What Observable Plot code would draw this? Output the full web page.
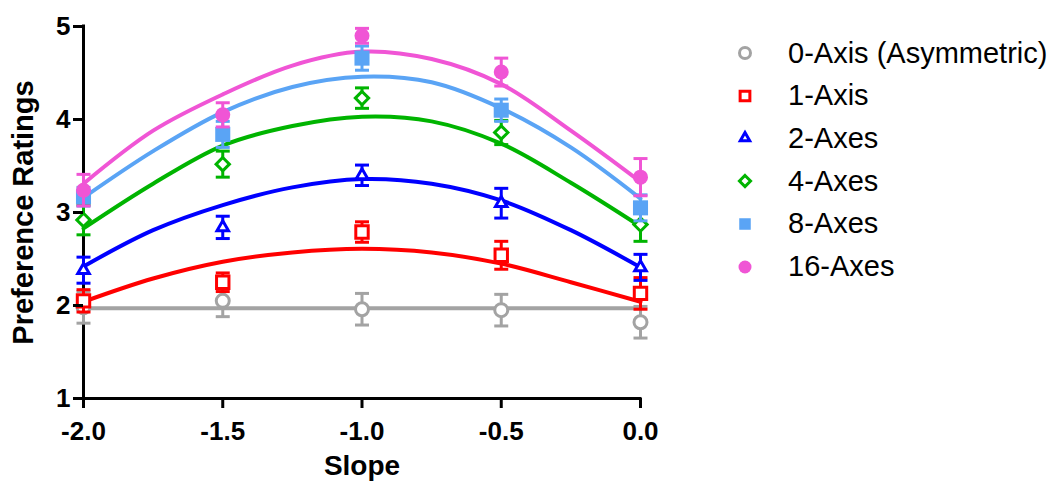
<!DOCTYPE html>
<html>
<head>
<meta charset="utf-8">
<script src="https://cdn.jsdelivr.net/npm/d3@7"></script>
<script src="https://cdn.jsdelivr.net/npm/@observablehq/plot@0.6"></script>
<style>
  body { margin: 0; background: #fff; }
  #wrap { position: relative; width: 1064px; height: 483px; font-family: "Liberation Sans", Arial, sans-serif; }
  #legend { position: absolute; left: 0; top: 0; }
  .lrow { position: absolute; height: 40px; display: flex; align-items: center; font-size: 29px; color: #000; white-space: nowrap; }
  .lrow svg { width: 30px; height: 30px; margin-right: 28px; }
</style>
</head>
<body>
<div id="wrap"><div id="chart"></div><div id="legend"></div></div>
<script>
// ---- data ----
const slopes = [-2, -1.5, -1, -0.5, 0];
const fitSlopes = [-2, -1.75, -1.5, -1.25, -1, -0.75, -0.5, -0.25, 0];
const seriesNames = ["0-Axis (Asymmetric)", "1-Axis", "2-Axes", "4-Axes", "8-Axes", "16-Axes"];
const seriesColors = ["#a3a3a3", "#ff0000", "#0000ff", "#00b400", "#5aa4f5", "#f055d5"];
const seriesSymbols = ["circle", "square", "triangle2", "diamond2", "square", "circle"];
const seriesFilled = [false, false, false, false, true, true];
const seriesR = [6.5, 7, 5.5, 6, 8.5, 7.5];

// means
const mean0 = [1.98, 2.05, 1.96, 1.95, 1.82];
const mean1 = [2.05, 2.25, 2.79, 2.54, 2.13];
const mean2 = [2.38, 2.84, 3.40, 3.10, 2.41];
const mean4 = [2.92, 3.52, 4.23, 3.86, 2.87];
const mean8 = [3.17, 3.84, 4.66, 4.10, 3.05];
const mean16 = [3.24, 4.05, 4.90, 4.51, 3.38];
// standard errors
const err0 = [0.17, 0.17, 0.17, 0.17, 0.17];
const err1 = [0.12, 0.10, 0.11, 0.15, 0.17];
const err2 = [0.14, 0.12, 0.11, 0.16, 0.14];
const err4 = [0.16, 0.14, 0.11, 0.13, 0.18];
const err8 = [0.10, 0.14, 0.13, 0.12, 0.14];
const err16 = [0.17, 0.13, 0.08, 0.15, 0.20];
// fitted curve values at fitSlopes
const fit0 = [1.97, 1.97, 1.97, 1.97, 1.97, 1.97, 1.97, 1.97, 1.97];
const fit1 = [2.04, 2.29, 2.47, 2.57, 2.61, 2.57, 2.45, 2.25, 2.04];
const fit2 = [2.42, 2.81, 3.08, 3.27, 3.36, 3.31, 3.13, 2.81, 2.41];
const fit4 = [2.83, 3.31, 3.72, 3.93, 4.03, 3.98, 3.74, 3.32, 2.85];
const fit8 = [3.16, 3.66, 4.08, 4.35, 4.46, 4.40, 4.12, 3.70, 3.15];
const fit16 = [3.31, 3.88, 4.27, 4.58, 4.73, 4.65, 4.38, 3.88, 3.33];

const yTicks = [1, 2, 3, 4, 5];
const xTicks = [-2, -1.5, -1, -0.5, 0];

const means = [mean0, mean1, mean2, mean4, mean8, mean16];
const errs = [err0, err1, err2, err4, err8, err16];
const fits = [fit0, fit1, fit2, fit4, fit8, fit16];

const pointRows = seriesNames.map((s, i) => slopes.map((x, j) => ({
  series: s, x, mean: means[i][j], err: errs[i][j]
})));
const fitRows = seriesNames.map((s, i) => fitSlopes.map((x, j) => ({ series: s, x, fit: fits[i][j] })));

const cap = { draw(ctx) { ctx.moveTo(-7, 0); ctx.lineTo(7, 0); } };

const marks = [];
// fit lines
fitRows.forEach((d, i) => {
  marks.push(Plot.line(d, { x: "x", y: "fit", stroke: seriesColors[i], strokeWidth: 4, curve: "catmull-rom" }));
});
// axes lines
marks.push(Plot.ruleX([-2], { stroke: "#000", strokeWidth: 3, strokeLinecap: "square" }));
marks.push(Plot.ruleY([1], { stroke: "#000", strokeWidth: 3, strokeLinecap: "square" }));
// error bars and points
pointRows.forEach((d, i) => {
  const c = seriesColors[i];
  marks.push(Plot.ruleX(d, { x: "x", y1: r => r.mean - r.err, y2: r => r.mean + r.err, stroke: c, strokeWidth: 3 }));
  marks.push(Plot.dot(d, { x: "x", y: r => r.mean + r.err, symbol: cap, stroke: c, strokeWidth: 3, r: 5 }));
  marks.push(Plot.dot(d, { x: "x", y: r => r.mean - r.err, symbol: cap, stroke: c, strokeWidth: 3, r: 5 }));
  if (seriesFilled[i]) {
    marks.push(Plot.dot(d, { x: "x", y: "mean", symbol: seriesSymbols[i], fill: c, stroke: "none", r: seriesR[i] }));
  } else {
    marks.push(Plot.dot(d, { x: "x", y: "mean", symbol: seriesSymbols[i], fill: "white", stroke: c, strokeWidth: 3, r: seriesR[i] }));
  }
});

marks.push(Plot.axisY({ ticks: yTicks, tickSize: 10, tickPadding: 3, strokeWidth: 3, fontSize: 26, fontWeight: "bold", label: null, tickFormat: d => String(d) }));
marks.push(Plot.axisX({ ticks: xTicks, tickSize: 10, tickPadding: 13, strokeWidth: 3, fontSize: 26, fontWeight: "bold", label: null, tickFormat: d => d.toFixed(1) }));
marks.push(Plot.text(["Preference Ratings"], { frameAnchor: "left", textAnchor: "middle", lineAnchor: "middle", dx: -60, rotate: -90, fontSize: 29, fontWeight: "bold", fill: "#000" }));
marks.push(Plot.text(["Slope"], { frameAnchor: "bottom", textAnchor: "middle", lineAnchor: "middle", dy: 68, fontSize: 28, fontWeight: "bold", fill: "#000" }));

const chart = Plot.plot({
  width: 1064,
  height: 483,
  marginLeft: 83,
  marginRight: 424,
  marginTop: 26,
  marginBottom: 85,
  x: { domain: [-2, 0] },
  y: { domain: [1, 5] },
  style: { fontFamily: "'Liberation Sans', Arial, sans-serif", color: "#000", background: "#fff", overflow: "visible" },
  marks
});
document.getElementById("chart").appendChild(chart);

// legend
const legend = document.getElementById("legend");
const symMap = { circle: d3.symbolCircle, square: d3.symbolSquare, triangle2: d3.symbolTriangle2, diamond2: d3.symbolDiamond2 };
const legR = [5.5, 5.5, 4.5, 5, 6.5, 6.5];
seriesNames.forEach((s, i) => {
  const row = document.createElement("div");
  row.className = "lrow";
  row.style.left = "730px";
  row.style.top = (33 + i * 42.7) + "px";
  const path = d3.symbol(symMap[seriesSymbols[i]], Math.PI * legR[i] * legR[i])();
  const filled = seriesFilled[i];
  row.innerHTML = `<svg viewBox="-15 -15 30 30"><path d="${path}" fill="${filled ? seriesColors[i] : "white"}" stroke="${filled ? "none" : seriesColors[i]}" stroke-width="3"/></svg><span>${s}</span>`;
  legend.appendChild(row);
});
</script>
</body>
</html>
